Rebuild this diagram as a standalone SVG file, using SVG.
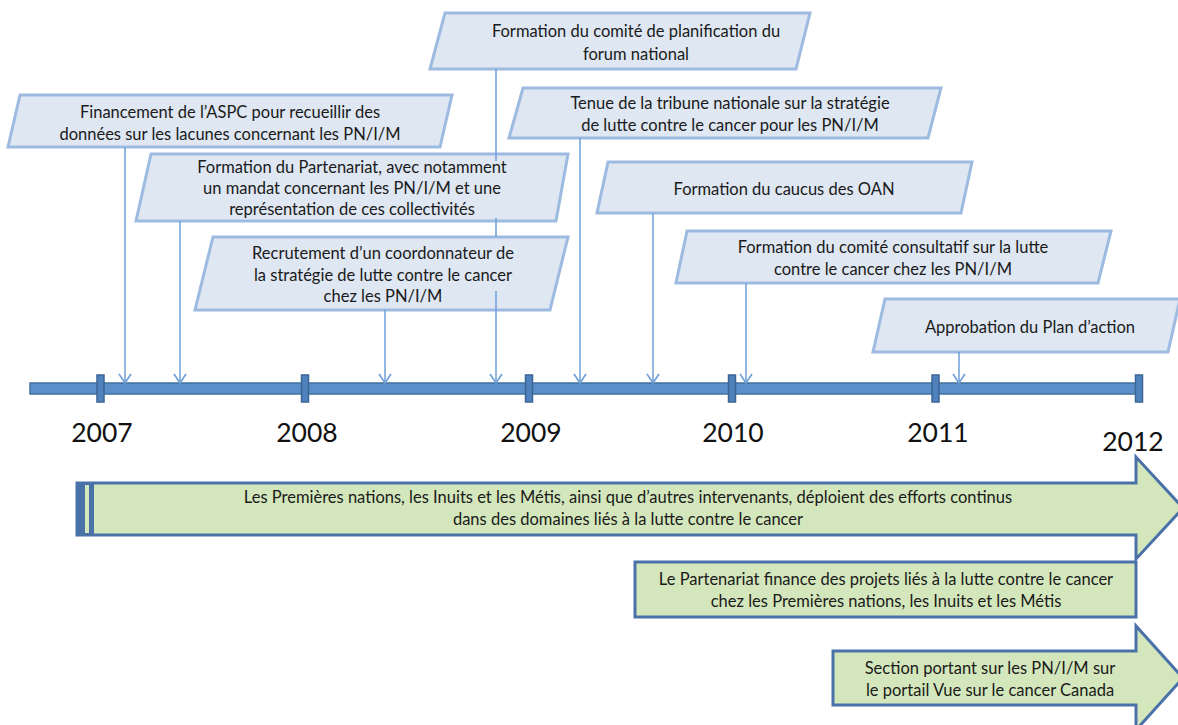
<svg xmlns="http://www.w3.org/2000/svg" width="1178" height="725" viewBox="0 0 1178 725">
  <defs>
    <style>
      .evt { fill: #dee7f2; stroke: #9dbbe0; stroke-width: 3; stroke-linejoin: miter; }
      .lbl { font-family: Lato, "Liberation Sans", Arial, sans-serif; font-size: 16.5px; fill: #1a1a1a; text-anchor: middle; }
      .year { font-family: Lato, "Liberation Sans", Arial, sans-serif; font-size: 26.5px; fill: #111; text-anchor: middle; }
      .conn { fill: none; stroke: #6e9fd8; stroke-width: 1.5; }
      .tick { fill: #4f81bd; stroke: #3b6694; stroke-width: 1.5; }
      .band { fill: #d4e7bc; stroke: #4a72a8; stroke-width: 3; stroke-linejoin: miter; }
    </style>
    <marker id="vhead" markerUnits="userSpaceOnUse" markerWidth="16" markerHeight="16" viewBox="0 0 16 16" refX="14" refY="8" orient="auto">
      <path d="M5,2 L14,8 L5,14" fill="none" stroke="#6e9fd8" stroke-width="1.6"/>
    </marker>
  </defs>

  <!-- timeline axis -->
  <g id="axis">
    <rect x="30" y="383" width="1109" height="11" fill="#5a8fca" stroke="#41719c" stroke-width="1.5"/>
    <rect class="tick" x="97" y="375" width="7" height="27"/>
    <rect class="tick" x="301.5" y="375" width="7" height="27"/>
    <rect class="tick" x="525.5" y="375" width="7" height="27"/>
    <rect class="tick" x="728.5" y="375" width="7" height="27"/>
    <rect class="tick" x="932" y="375" width="7" height="27"/>
    <rect class="tick" x="1135.5" y="375" width="7" height="27"/>
    <text class="year" x="102" y="442">2007</text>
    <text class="year" x="307" y="442">2008</text>
    <text class="year" x="531" y="442">2009</text>
    <text class="year" x="733" y="442">2010</text>
    <text class="year" x="938" y="442">2011</text>
    <text class="year" x="1133" y="451">2012</text>
  </g>

  <!-- event boxes -->
  <g id="evt-aspc">
    <polygon class="evt" points="20,95 452,95 440,147 8,147"/>
    <text class="lbl" x="230" y="118">Financement de l’ASPC pour recueillir des</text>
    <text class="lbl" x="230" y="140">données sur les lacunes concernant les PN/I/M</text>
  </g>
  <g id="evt-partenariat">
    <polygon class="evt" points="151,154 568,154 556,221 136,221"/>
    <text class="lbl" x="352" y="173">Formation du Partenariat, avec notamment</text>
    <text class="lbl" x="352" y="194">un mandat concernant les PN/I/M et une</text>
    <text class="lbl" x="352" y="215">représentation de ces collectivités</text>
  </g>
  <g id="evt-coordonnateur">
    <polygon class="evt" points="213,237 568,237 550,310 195,310"/>
    <text class="lbl" x="383" y="259">Recrutement d’un coordonnateur de</text>
    <text class="lbl" x="383" y="281">la stratégie de lutte contre le cancer</text>
    <text class="lbl" x="383" y="302">chez les PN/I/M</text>
  </g>
  <g id="evt-planification">
    <polygon class="evt" points="445,13 810,13 796,69 430,69"/>
    <text class="lbl" x="636" y="37">Formation du comité de planification du</text>
    <text class="lbl" x="636" y="60">forum national</text>
  </g>
  <g id="evt-tribune">
    <polygon class="evt" points="523,88 941,88 928,138 509,138"/>
    <text class="lbl" x="730" y="109">Tenue de la tribune nationale sur la stratégie</text>
    <text class="lbl" x="730" y="131">de lutte contre le cancer pour les PN/I/M</text>
  </g>
  <g id="evt-caucus">
    <polygon class="evt" points="608,162 972,162 961,213 597,213"/>
    <text class="lbl" x="784" y="195">Formation du caucus des OAN</text>
  </g>
  <g id="evt-consultatif">
    <polygon class="evt" points="687,231 1111,231 1098,283 676,283"/>
    <text class="lbl" x="893" y="253">Formation du comité consultatif sur la lutte</text>
    <text class="lbl" x="893" y="275">contre le cancer chez les PN/I/M</text>
  </g>
  <g id="evt-plan">
    <polygon class="evt" points="885,299 1180,299 1168,352 873,352"/>
    <text class="lbl" x="1030" y="333">Approbation du Plan d’action</text>
  </g>

  <!-- connectors from events to the axis -->
  <g id="connectors">
    <line class="conn" x1="125" y1="147" x2="125" y2="383" marker-end="url(#vhead)"/>
    <line class="conn" x1="180" y1="221" x2="180" y2="383" marker-end="url(#vhead)"/>
    <line class="conn" x1="385" y1="310" x2="385" y2="383" marker-end="url(#vhead)"/>
    <path class="conn" d="M496,69 V161 M496,218 V237 M496,291 V383" marker-end="url(#vhead)"/>
    <line class="conn" x1="580" y1="138" x2="580" y2="383" marker-end="url(#vhead)"/>
    <line class="conn" x1="653" y1="213" x2="653" y2="383" marker-end="url(#vhead)"/>
    <line class="conn" x1="746" y1="283" x2="746" y2="383" marker-end="url(#vhead)"/>
    <line class="conn" x1="959" y1="352" x2="959" y2="383" marker-end="url(#vhead)"/>
  </g>

  <!-- ongoing activities -->
  <g id="band-efforts">
    <polygon class="band" points="77,483 1136,483 1136,457 1183,508 1136,559 1136,535 77,535"/>
    <rect x="77" y="483" width="17" height="52" fill="#4a72a8"/>
    <rect x="85" y="485" width="4" height="48" fill="#d4e7bc"/>
    <text class="lbl" x="628" y="503">Les Premières nations, les Inuits et les Métis, ainsi que d’autres intervenants, déploient des efforts continus</text>
    <text class="lbl" x="628" y="525">dans des domaines liés à la lutte contre le cancer</text>
  </g>
  <g id="band-projets">
    <rect class="band" x="635" y="562" width="501" height="55"/>
    <text class="lbl" x="886" y="585">Le Partenariat finance des projets liés à la lutte contre le cancer</text>
    <text class="lbl" x="886" y="607">chez les Premières nations, les Inuits et les Métis</text>
  </g>
  <g id="band-portail">
    <polygon class="band" points="833,651 1136,651 1136,626 1183,678 1136,730 1136,705 833,705"/>
    <text class="lbl" x="990" y="674">Section portant sur les PN/I/M sur</text>
    <text class="lbl" x="990" y="696">le portail Vue sur le cancer Canada</text>
  </g>
</svg>
